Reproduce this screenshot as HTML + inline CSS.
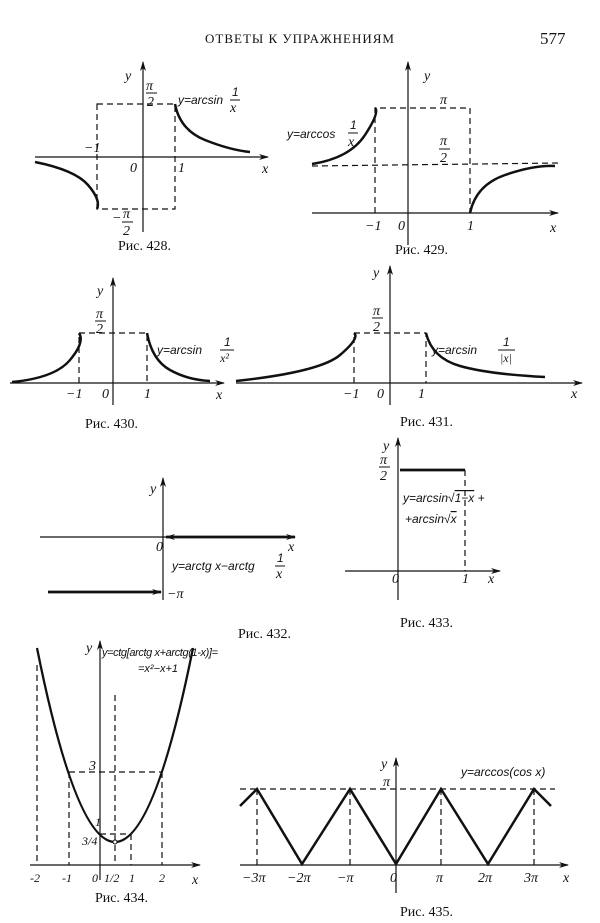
<!DOCTYPE html>
<html><head><meta charset="utf-8"><style>
html,body{margin:0;padding:0;background:#fff}
svg{display:block}
text{font-family:"Liberation Serif",serif;fill:#111}
.i{font-style:italic;font-size:14px}
.s{font-family:"Liberation Sans",sans-serif;font-style:italic;font-size:12px}
.c{font-size:14px}
</style></head><body>
<svg width="600" height="923" viewBox="0 0 600 923" xmlns="http://www.w3.org/2000/svg">
<defs><marker id="a" markerWidth="10" markerHeight="6" refX="9" refY="3" orient="auto" markerUnits="userSpaceOnUse"><path d="M0,0 L10,3 L0,6 L3,3Z" fill="#111"/></marker></defs>
<text x="300" y="43" text-anchor="middle" style="font-size:13px;letter-spacing:1px">ОТВЕТЫ К УПРАЖНЕНИЯМ</text>
<text x="540" y="44" style="font-size:17px">577</text>

<!-- Fig 428 -->
<g stroke="#111" fill="none" stroke-width="1.2">
<line x1="35" y1="157" x2="268" y2="157" marker-end="url(#a)"/>
<line x1="143" y1="232" x2="143" y2="62" marker-end="url(#a)"/>
<path d="M97,104 H175 V209 H97 Z" stroke-dasharray="6,4"/>
<path d="M175,104 Q180,130 205,140 T250,152" stroke-width="2.5"/>
<path d="M35,162 Q75,170 88,185 T97,209" stroke-width="2.5"/>
</g>
<text x="125" y="80" class="i">y</text>
<text x="146" y="90" class="i">π</text><line x1="146" y1="93" x2="157" y2="93" stroke="#111"/><text x="147" y="106" class="i">2</text>
<text x="178" y="104" class="s">y=arcsin</text><text x="232" y="96" class="s">1</text><line x1="230" y1="100" x2="240" y2="100" stroke="#111"/><text x="230" y="112" class="i">x</text>
<text x="84" y="152" class="i">−1</text><text x="130" y="172" class="i">0</text><text x="178" y="172" class="i">1</text><text x="262" y="173" class="i">x</text>
<text x="112" y="222" class="i">−</text><text x="123" y="218" class="i">π</text><line x1="122" y1="222" x2="133" y2="222" stroke="#111"/><text x="123" y="235" class="i">2</text>
<text x="118" y="250" class="c">Рис. 428.</text>

<!-- Fig 429 -->
<g stroke="#111" fill="none" stroke-width="1.2">
<line x1="312" y1="213" x2="558" y2="213" marker-end="url(#a)"/>
<line x1="408" y1="245" x2="408" y2="62" marker-end="url(#a)"/>
<path d="M375,213 V108 H470 V213" stroke-dasharray="6,4"/>
<line x1="312" y1="166" x2="558" y2="163" stroke-dasharray="6,4"/>
<path d="M312,164 Q350,158 365,135 T375,108" stroke-width="2.5"/>
<path d="M470,213 Q476,185 505,175 T555,166" stroke-width="2.5"/>
</g>
<text x="424" y="80" class="i">y</text>
<text x="440" y="104" class="i">π</text>
<text x="440" y="145" class="i">π</text><line x1="439" y1="149" x2="450" y2="149" stroke="#111"/><text x="440" y="162" class="i">2</text>
<text x="287" y="138" class="s">y=arccos</text><text x="350" y="129" class="s">1</text><line x1="348" y1="133" x2="358" y2="133" stroke="#111"/><text x="348" y="146" class="i">x</text>
<text x="365" y="230" class="i">−1</text><text x="398" y="230" class="i">0</text><text x="467" y="230" class="i">1</text><text x="550" y="232" class="i">x</text>
<text x="395" y="254" class="c">Рис. 429.</text>

<!-- Fig 430 -->
<g stroke="#111" fill="none" stroke-width="1.2">
<line x1="10" y1="383" x2="224" y2="383" marker-end="url(#a)"/>
<line x1="113" y1="405" x2="113" y2="278" marker-end="url(#a)"/>
<path d="M79,383 V333 H147 V383" stroke-dasharray="6,4"/>
<path d="M12,382 Q55,378 70,360 T79,333" stroke-width="2.5"/>
<path d="M147,333 Q152,360 170,370 T210,381" stroke-width="2.5"/>
</g>
<text x="97" y="295" class="i">y</text>
<text x="96" y="318" class="i">π</text><line x1="95" y1="321" x2="106" y2="321" stroke="#111"/><text x="96" y="333" class="i">2</text>
<text x="157" y="354" class="s">y=arcsin</text><text x="224" y="346" class="s">1</text><line x1="220" y1="350" x2="234" y2="350" stroke="#111"/><text x="220" y="362" class="i" style="font-size:12px">x²</text>
<text x="66" y="398" class="i">−1</text><text x="102" y="398" class="i">0</text><text x="144" y="398" class="i">1</text><text x="216" y="399" class="i">x</text>
<text x="85" y="428" class="c">Рис. 430.</text>

<!-- Fig 431 -->
<g stroke="#111" fill="none" stroke-width="1.2">
<line x1="236" y1="383" x2="582" y2="383" marker-end="url(#a)"/>
<line x1="390" y1="405" x2="390" y2="266" marker-end="url(#a)"/>
<path d="M354,383 V333 H426 V383" stroke-dasharray="6,4"/>
<path d="M236,381 Q320,372 340,355 T354,333" stroke-width="2.5"/>
<path d="M426,333 Q432,358 460,366 T545,377" stroke-width="2.5"/>
</g>
<text x="373" y="277" class="i">y</text>
<text x="373" y="315" class="i">π</text><line x1="372" y1="318" x2="383" y2="318" stroke="#111"/><text x="373" y="331" class="i">2</text>
<text x="432" y="354" class="s">y=arcsin</text><text x="503" y="346" class="s">1</text><line x1="498" y1="350" x2="515" y2="350" stroke="#111"/><text x="500" y="362" class="i" style="font-size:12px">|x|</text>
<text x="343" y="398" class="i">−1</text><text x="377" y="398" class="i">0</text><text x="418" y="398" class="i">1</text><text x="571" y="398" class="i">x</text>
<text x="400" y="426" class="c">Рис. 431.</text>

<!-- Fig 432 -->
<g stroke="#111" fill="none" stroke-width="1.2">
<line x1="40" y1="537" x2="295" y2="537" marker-end="url(#a)"/>
<line x1="163" y1="600" x2="163" y2="478" marker-end="url(#a)"/>
<line x1="295" y1="537" x2="166" y2="537" stroke-width="2.8" marker-end="url(#a)"/>
<line x1="48" y1="592" x2="161" y2="592" stroke-width="2.8" marker-end="url(#a)"/>
</g>
<text x="150" y="493" class="i">y</text>
<text x="156" y="551" class="i">0</text><text x="288" y="551" class="i">x</text>
<text x="172" y="570" class="s">y=arctg x−arctg</text><text x="277" y="562" class="s">1</text><line x1="275" y1="566" x2="285" y2="566" stroke="#111"/><text x="276" y="578" class="i">x</text>
<text x="167" y="598" class="i">−π</text>
<text x="238" y="638" class="c">Рис. 432.</text>

<!-- Fig 433 -->
<g stroke="#111" fill="none" stroke-width="1.2">
<line x1="345" y1="571" x2="500" y2="571" marker-end="url(#a)"/>
<line x1="398" y1="600" x2="398" y2="438" marker-end="url(#a)"/>
<line x1="400" y1="470" x2="465" y2="470" stroke-width="2.8"/>
<line x1="465" y1="470" x2="465" y2="571" stroke-dasharray="6,4"/>
</g>
<text x="383" y="450" class="i">y</text>
<text x="380" y="464" class="i">π</text><line x1="379" y1="467" x2="390" y2="467" stroke="#111"/><text x="380" y="480" class="i">2</text>
<text x="403" y="502" class="s">y=arcsin√<tspan text-decoration="overline">1−x</tspan> +</text>
<text x="405" y="523" class="s">+arcsin√<tspan text-decoration="overline">x</tspan></text>
<text x="392" y="583" class="i">0</text><text x="462" y="583" class="i">1</text><text x="488" y="583" class="i">x</text>
<text x="400" y="627" class="c">Рис. 433.</text>

<!-- Fig 434 -->
<g stroke="#111" fill="none" stroke-width="1.2">
<line x1="30" y1="865" x2="200" y2="865" marker-end="url(#a)"/>
<line x1="100" y1="880" x2="100" y2="641" marker-end="url(#a)"/>
<g stroke-dasharray="6,4">
<line x1="37" y1="665" x2="37" y2="865"/>
<line x1="69" y1="772" x2="69" y2="865"/>
<line x1="162" y1="772" x2="162" y2="865"/>
<line x1="115" y1="695" x2="115" y2="865"/>
<line x1="131" y1="834" x2="131" y2="865"/>
<line x1="69" y1="772" x2="162" y2="772"/>
<line x1="100" y1="834" x2="131" y2="834"/>
</g>
<path d="M37,648 Q115,1036 193,648" stroke-width="2.3"/>
<circle cx="115" cy="842" r="2" fill="#fff" stroke-width="1"/>
</g>
<text x="86" y="652" class="i">y</text>
<text x="102" y="656" class="s" style="font-size:11px" textLength="116">y=ctg[arctg x+arctg(1-x)]=</text>
<text x="138" y="672" class="s" style="font-size:11px">=x²−x+1</text>
<text x="89" y="770" class="i">3</text><text x="95" y="826" class="i" style="font-size:12px">1</text><text x="82" y="845" class="i" style="font-size:12px">3/4</text>
<text x="30" y="882" class="i" style="font-size:12px">-2</text><text x="62" y="882" class="i" style="font-size:12px">-1</text><text x="92" y="882" class="i" style="font-size:12px">0</text><text x="104" y="882" class="i" style="font-size:12px">1/2</text><text x="129" y="882" class="i" style="font-size:12px">1</text><text x="159" y="882" class="i" style="font-size:12px">2</text><text x="192" y="884" class="i">x</text>
<text x="95" y="902" class="c">Рис. 434.</text>

<!-- Fig 435 -->
<g stroke="#111" fill="none" stroke-width="1.2">
<line x1="240" y1="865" x2="568" y2="865" marker-end="url(#a)"/>
<line x1="396" y1="893" x2="396" y2="758" marker-end="url(#a)"/>
<g stroke-dasharray="6,4">
<line x1="240" y1="789" x2="555" y2="789"/>
<line x1="257" y1="789" x2="257" y2="865"/>
<line x1="350" y1="789" x2="350" y2="865"/>
<line x1="441" y1="789" x2="441" y2="865"/>
<line x1="534" y1="789" x2="534" y2="865"/>
</g>
<path d="M240,806 L257,789 L302,864 L350,789 L396,864 L441,789 L488,864 L534,789 L551,806" stroke-width="2.5"/>
</g>
<text x="381" y="768" class="i">y</text>
<text x="461" y="776" class="s">y=arccos(cos x)</text>
<text x="383" y="786" class="i">π</text>
<text x="242" y="882" class="i">−3π</text><text x="287" y="882" class="i">−2π</text><text x="337" y="882" class="i">−π</text><text x="390" y="882" class="i">0</text><text x="436" y="882" class="i">π</text><text x="478" y="882" class="i">2π</text><text x="524" y="882" class="i">3π</text><text x="563" y="882" class="i">x</text>
<text x="400" y="916" class="c">Рис. 435.</text>
</svg>
</body></html>
